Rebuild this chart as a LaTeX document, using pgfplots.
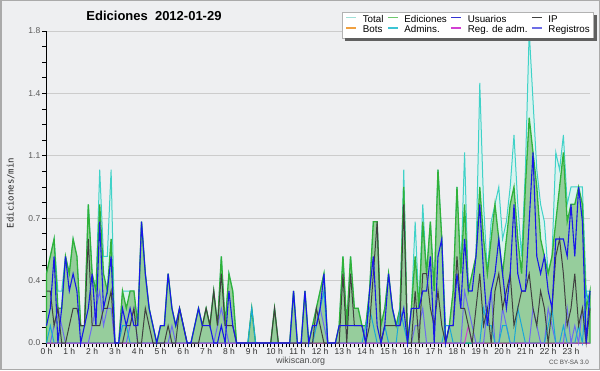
\documentclass[border=0pt]{standalone}
\usepackage{fontspec}
\setmainfont{Liberation Sans}
\newfontfamily\monofont{DejaVu Sans Mono}
\usepackage{pgfplots}
\pgfplotsset{compat=1.18}
\usepackage{pgfplotstable}

\definecolor{bg}{RGB}{238,239,241}
\definecolor{frame}{RGB}{170,170,170}
\definecolor{totline}{RGB}{64,210,200}
\definecolor{totfill}{RGB}{218,243,239}
\definecolor{totleg}{RGB}{160,224,216}
\definecolor{edline}{RGB}{48,178,58}
\definecolor{edfill}{RGB}{150,205,156}
\definecolor{edleg}{RGB}{110,200,110}
\definecolor{usr}{RGB}{24,24,232}
\definecolor{usrleg}{RGB}{50,50,210}
\definecolor{ip}{RGB}{64,64,64}
\definecolor{adm}{RGB}{26,168,216}
\definecolor{admleg}{RGB}{60,196,212}
\definecolor{reg}{RGB}{108,108,240}
\definecolor{regleg}{RGB}{110,110,230}
\definecolor{regadm}{RGB}{210,64,210}
\definecolor{bots}{RGB}{240,160,64}
\definecolor{xlab}{RGB}{50,50,50}
\definecolor{ylab}{RGB}{90,90,90}
\definecolor{shadow}{RGB}{96,96,96}

% i = 10-minute slot (0..143); T Total, E Ediciones, U Usuarios, P IP,
% A Admins., R Registros, M Reg. de adm.
\pgfplotstableread{
i T E U P A R M
0 0.4 0.4 0.1 0.3 0 0 0
1 0.5 0.5 0.2 0.3 0.1 0 0
2 0.6 0.6 0.5 0.1 0 0.1 0
3 0.3 0.2 0 0.2 0 0.2 0
4 0.3 0.2 0.2 0 0 0.1 0
5 0.5 0.5 0.5 0 0 0 0
6 0.4 0.4 0.3 0.1 0 0 0
7 0.6 0.6 0.4 0.2 0 0 0
8 0.5 0.5 0.3 0.2 0 0 0
9 0.1 0.1 0 0.1 0 0 0
10 0.1 0.1 0.1 0.1 0 0 0
11 0.8 0.8 0.2 0.6 0 0 0
12 0.4 0.4 0.4 0.1 0 0.1 0
13 0.3 0.3 0.1 0.1 0 0.2 0
14 1.0 0.8 0.7 0.1 0 0.3 0
15 0.5 0.4 0.2 0.2 0 0.1 0
16 0.5 0.3 0.3 0.2 0 0.2 0
17 1.0 0.6 0.5 0.3 0 0.2 0
18 0 0 0 0 0 0 0
19 0 0 0 0 0 0 0
20 0.3 0.3 0.2 0 0.1 0 0
21 0.3 0.2 0.1 0.1 0.1 0 0
22 0.3 0.3 0.2 0.1 0 0.1 0
23 0.3 0.3 0.1 0.2 0 0.2 0
24 0.1 0.1 0.1 0 0 0 0
25 0.7 0.7 0.7 0 0 0 0
26 0.4 0.4 0.4 0.2 0 0 0
27 0.2 0.2 0.2 0.1 0 0 0
28 0.1 0.1 0.1 0 0 0 0
29 0 0 0 0 0 0 0
30 0.1 0.1 0.1 0 0 0 0
31 0.1 0.1 0.1 0 0 0 0
32 0.4 0.4 0.4 0.1 0 0 0
33 0.2 0.2 0.2 0 0 0.1 0
34 0.1 0.1 0.1 0 0 0 0
35 0.2 0.2 0.2 0.2 0 0 0
36 0.1 0.1 0.1 0.1 0 0 0
37 0 0 0 0 0 0 0
38 0 0 0 0 0 0 0
39 0.1 0.1 0.1 0 0 0 0
40 0.2 0.2 0.2 0 0 0 0
41 0.1 0.1 0.1 0.1 0 0 0
42 0.2 0.2 0.1 0.2 0 0 0
43 0.1 0.1 0.1 0.1 0 0 0
44 0.3 0.3 0 0.3 0 0 0
45 0.1 0.1 0 0.1 0 0.1 0
46 0.5 0.5 0.1 0.4 0 0.2 0
47 0.1 0.1 0 0.1 0 0.1 0
48 0.4 0.4 0.3 0.1 0 0 0
49 0.3 0.3 0.1 0.1 0 0 0
50 0 0 0 0 0 0 0
51 0 0 0 0 0 0 0
52 0 0 0 0 0 0 0
53 0 0 0 0 0 0 0
54 0.2 0.2 0 0 0.2 0 0
55 0 0 0 0 0 0 0
56 0 0 0 0 0 0 0
57 0 0 0 0 0 0 0
58 0 0 0 0 0 0 0
59 0 0 0 0 0 0 0
60 0.2 0.2 0 0.2 0 0 0
61 0 0 0 0 0 0 0
62 0 0 0 0 0 0 0
63 0 0 0 0 0 0 0
64 0 0 0 0 0 0 0
65 0.3 0.3 0.3 0 0 0 0
66 0 0 0 0 0 0 0
67 0 0 0 0 0 0 0
68 0.3 0.3 0.3 0 0 0 0
69 0 0 0 0 0 0 0
70 0.1 0.1 0.1 0 0 0 0
71 0.2 0.2 0.1 0.2 0.1 0.1 0
72 0.3 0.3 0.2 0.1 0.2 0.2 0
73 0.4 0.4 0.4 0 0.3 0.1 0
74 0 0 0 0 0 0 0
75 0 0 0 0 0 0 0
76 0 0 0 0 0 0 0
77 0.1 0.1 0.1 0 0 0 0
78 0.5 0.5 0.1 0.4 0 0 0
79 0.1 0.1 0.1 0 0 0 0
80 0.5 0.5 0.1 0.4 0 0 0
81 0.2 0.2 0.1 0.1 0 0 0
82 0.2 0.2 0.1 0.1 0 0 0
83 0.1 0.1 0.1 0.1 0 0 0
84 0.1 0.1 0 0 0.1 0 0
85 0.3 0.3 0.3 0.1 0.2 0 0
86 0.7 0.7 0.5 0.4 0.1 0 0
87 0.7 0.7 0.1 0.7 0 0 0
88 0.1 0.1 0 0 0 0 0
89 0.2 0.2 0.1 0.1 0.1 0 0
90 0.4 0.4 0.4 0.1 0 0 0
91 0.2 0.2 0.2 0.1 0 0 0
92 0.1 0.1 0.1 0.1 0 0 0
93 0.2 0.2 0.1 0.1 0.2 0 0
94 1.0 0.9 0.2 0.8 0.1 0 0
95 0 0 0 0 0 0 0
96 0.2 0.2 0.2 0 0 0 0
97 0.7 0.5 0.2 0.3 0 0.1 0
98 0.2 0.2 0.2 0 0 0.1 0
99 0.8 0.7 0.3 0.4 0 0.2 0
100 0.4 0.4 0.3 0.4 0 0 0
101 0.7 0.7 0.5 0.2 0 0 0
102 0.3 0.3 0 0.1 0 0 0
103 1.0 1.0 0.5 0.3 0 0 0
104 0.6 0.6 0.6 0.1 0 0 0
105 0.1 0 0 0 0.1 0 0
106 0.1 0.1 0.1 0.1 0.1 0 0
107 0.3 0.3 0.1 0.1 0 0 0
108 0.9 0.9 0.4 0.5 0 0 0
109 0.4 0.4 0.2 0.2 0 0 0
110 1.1 0.8 0.6 0.2 0 0.3 0
111 0.3 0.3 0.3 0.1 0 0.2 0.1
112 0.4 0.4 0.3 0 0 0.1 0
113 0.5 0.5 0.5 0.2 0 0 0
114 1.5 0.9 0.8 0.4 0 0 0
115 0.8 0.6 0.4 0.1 0.2 0 0
116 0.4 0.4 0.1 0.2 0.1 0.2 0
117 0.7 0.6 0.3 0 0.1 0.3 0
118 0.8 0.8 0.4 0.3 0 0 0
119 0.9 0.6 0.6 0.4 0 0 0
120 0.6 0.4 0.4 0.2 0.1 0.2 0
121 0.7 0.6 0.2 0.3 0.1 0.1 0
122 0.9 0.8 0.4 0.4 0 0 0
123 1.2 0.9 0.8 0.1 0 0 0
124 0.8 0.6 0.4 0.2 0.2 0 0
125 0.5 0.4 0.3 0.3 0.1 0 0
126 1.0 0.9 0.3 0.3 0 0 0
127 1.8 1.3 0.7 0.4 0 0 0
128 1.4 1.1 1.1 0.2 0 0.2 0
129 1.0 0.9 0.5 0.1 0 0.1 0
130 0.8 0.6 0.4 0.3 0 0 0
131 0.7 0.5 0.5 0.2 0 0 0
132 0.4 0.4 0.3 0 0.1 0.2 0
133 0.5 0.5 0.2 0.2 0.2 0.1 0
134 1.1 0.7 0.6 0.5 0 0 0
135 1.0 0.9 0.6 0.6 0 0 0
136 1.2 1.1 0.6 0.4 0.1 0 0
137 0.8 0.7 0.5 0.1 0 0.2 0
138 0.9 0.8 0.8 0.2 0 0 0
139 0.9 0.8 0.5 0.4 0 0.1 0
140 0.9 0.9 0.9 0.1 0.1 0 0
141 0.9 0.8 0.7 0.2 0 0.2 0
142 0.3 0.2 0 0 0.3 0 0
143 0.3 0.3 0.3 0.2 0.2 0 0
}\data

\begin{document}
\begin{tikzpicture}[x=1pt,y=1pt]
\fill[bg] (0,0) rectangle (600,370);
\draw[frame, line width=1.5pt] (0.75,0.75) rectangle (599.25,369.25);

\begin{axis}[
  at={(46.5pt,27pt)}, anchor=south west,
  scale only axis, width=543.5pt, height=312pt,
  xmin=0, xmax=143, ymin=0, ymax=1.8,
  axis x line*=bottom, axis y line*=left,
  axis line style={line width=1.6pt, black, -},
  xtick={0,6,...,138},
  xticklabels={0 h,1 h,2 h,3 h,4 h,5 h,6 h,7 h,8 h,9 h,10 h,11 h,12 h,13 h,14 h,15 h,16 h,17 h,18 h,19 h,20 h,21 h,22 h,23 h},
  minor x tick num=5,
  ytick={0,0.36,0.72,1.08,1.44,1.8},
  yticklabels={0.0,0.4,0.7,1.1,1.4,1.8},
  minor y tick num=3,
  tick align=outside,
  major tick length=4pt, minor tick length=4pt,
  every tick/.style={black, line width=0.8pt},
  ymajorgrids,
  major grid style={draw=black!20, line width=0.8pt},
  xticklabel style={font=\fontsize{8.5}{9}\selectfont, text=xlab, inner sep=1pt},
  yticklabel style={font=\fontsize{8.5}{9}\selectfont, text=ylab, inner sep=2pt},
  clip=false,
  legend columns=4,
  legend cell align=left,
  legend image code/.code={\draw[#1] (0pt,2.5pt) -- (10pt,2.5pt);},
  legend style={
    name=leg,
    at={(1.0072,1.0609)}, anchor=north east,
    fill=white, draw=black!30, line width=0.6pt,
    font=\fontsize{9.8}{10}\selectfont,
    inner xsep=3pt, inner ysep=2pt,
    nodes={inner sep=0.8pt, text height=7pt, text depth=2.2pt},
    /tikz/every odd column/.append style={column sep=5pt},
    /tikz/every even column/.append style={column sep=3pt},
  },
]
\addlegendimage{totleg, line width=1.3pt}\addlegendentry{Total}
\addlegendimage{edleg, line width=1.3pt}\addlegendentry{Ediciones}
\addlegendimage{usrleg, line width=1.3pt}\addlegendentry{Usuarios}
\addlegendimage{ip, line width=1.3pt}\addlegendentry{IP}
\addlegendimage{bots, line width=1.3pt}\addlegendentry{Bots}
\addlegendimage{admleg, line width=1.3pt}\addlegendentry{Admins.}
\addlegendimage{regadm, line width=1.3pt}\addlegendentry{Reg. de adm.}
\addlegendimage{regleg, line width=1.3pt}\addlegendentry{Registros}

\addplot[draw=none, fill=totfill, forget plot] table[x=i, y=T]{\data} \closedcycle;
\addplot[totline, line width=1pt, forget plot] table[x=i, y=T]{\data};
\addplot[edline, line width=1.3pt, fill=edfill, forget plot] table[x=i, y=E]{\data} \closedcycle;
\addplot[reg, line width=1pt, forget plot] table[x=i, y=R]{\data};
\addplot[adm, line width=1pt, forget plot] table[x=i, y=A]{\data};
\addplot[regadm, line width=1pt, forget plot] table[x=i, y=M]{\data};
\addplot[ip, line width=1pt, forget plot] table[x=i, y=P]{\data};
\addplot[usr, line width=1.1pt, forget plot] table[x=i, y=U]{\data};
\end{axis}

% legend drop shadow (right and bottom strips)
\fill[shadow] ([yshift=-3pt]leg.north east) rectangle ([xshift=3pt,yshift=-3pt]leg.south east);
\fill[shadow] ([xshift=3pt]leg.south west) rectangle ([xshift=3pt,yshift=-3pt]leg.south east);

\node[font=\bfseries\fontsize{13}{13}\selectfont, anchor=base] at (154,349.3) {Ediciones\hspace{0.55em}2012-01-29};
\node[rotate=90, font=\monofont\fontsize{9}{9}\selectfont, text=black!85] at (10.5,177) {Ediciones/min};
\node[font=\fontsize{8.9}{9}\selectfont, text=black!70, anchor=base] at (300.5,7) {wikiscan.org};
\node[font=\fontsize{6.3}{7}\selectfont, text=black!70, anchor=base east, inner sep=0pt] at (589,6) {CC BY-SA 3.0};
\end{tikzpicture}
\end{document}
